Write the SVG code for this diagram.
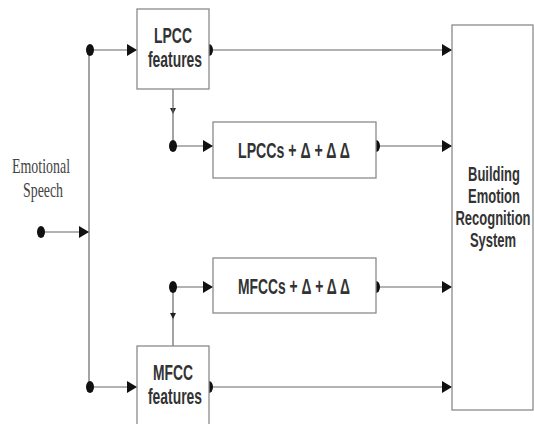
<svg xmlns="http://www.w3.org/2000/svg" width="534" height="424" viewBox="0 0 534 424">
<style>
.box{fill:#fff;stroke:#8a8a8a;stroke-width:1.3}
.ln{fill:none;stroke:#666;stroke-width:1.2}
.dot{fill:#111}
.lbl{font-family:"Liberation Sans",Arial,sans-serif;font-weight:bold;font-size:22px;fill:#333;text-anchor:middle}
.sys{font-size:20px}
.ser{font-family:"Liberation Serif","Times New Roman",serif;font-size:22px;fill:#444;text-anchor:middle}
</style>
<defs>
<marker id="ah" markerWidth="10" markerHeight="12" refX="10" refY="6" orient="auto" markerUnits="userSpaceOnUse">
<path d="M0,0 L10,6 L0,12 Z" fill="#111"/>
</marker>
<marker id="sa" markerWidth="6" markerHeight="6" refX="3" refY="3" orient="auto" markerUnits="userSpaceOnUse">
<path d="M0,0 L6,3 L0,6 Z" fill="#222"/>
</marker>
</defs>
<rect width="534" height="424" fill="#fff"/>

<g id="connectors">
<path class="ln" d="M41,232 H89" marker-end="url(#ah)"/>
<path class="ln" d="M89,50 V387"/>
<path class="ln" d="M89,50 H137" marker-end="url(#ah)"/>
<path class="ln" d="M89,387 H137" marker-end="url(#ah)"/>
<path class="ln" d="M209,50 H452" marker-end="url(#ah)"/>
<path class="ln" d="M173,89 V111" marker-end="url(#sa)"/>
<path class="ln" d="M173,108 V146"/>
<path class="ln" d="M173,146 H213" marker-end="url(#ah)"/>
<path class="ln" d="M376,146 H452" marker-end="url(#ah)"/>
<path class="ln" d="M173,346 V312"/>
<path class="ln" d="M173,312 V316" marker-end="url(#sa)"/>
<path class="ln" d="M173,312 V287"/>
<path class="ln" d="M173,287 H213" marker-end="url(#ah)"/>
<path class="ln" d="M376,287 H452" marker-end="url(#ah)"/>
<path class="ln" d="M209,387 H452" marker-end="url(#ah)"/>
<ellipse class="dot" cx="41" cy="232" rx="4" ry="6"/>
<ellipse class="dot" cx="90" cy="50" rx="4" ry="6"/>
<ellipse class="dot" cx="90" cy="387" rx="4" ry="6"/>
<ellipse class="dot" cx="209" cy="50" rx="4" ry="6"/>
<ellipse class="dot" cx="209" cy="387" rx="4" ry="6"/>
<ellipse class="dot" cx="173" cy="146" rx="4" ry="6"/>
<ellipse class="dot" cx="173" cy="287" rx="4" ry="6"/>
<ellipse class="dot" cx="376" cy="146" rx="4" ry="6"/>
<ellipse class="dot" cx="376" cy="287" rx="4" ry="6"/>
</g>

<g id="input">
<text class="ser" x="41" y="173" textLength="58" lengthAdjust="spacingAndGlyphs">Emotional</text>
<text class="ser" x="43" y="197" textLength="40" lengthAdjust="spacingAndGlyphs">Speech</text>
</g>

<g id="lpcc">
<rect class="box" x="137" y="9" width="72" height="80"/>
<text class="lbl" x="173" y="43" textLength="38" lengthAdjust="spacingAndGlyphs">LPCC</text>
<text class="lbl" x="175" y="67" textLength="54" lengthAdjust="spacingAndGlyphs">features</text>
</g>

<g id="lpccs">
<rect class="box" x="213" y="122" width="163" height="56"/>
<text class="lbl" x="294" y="158" textLength="112" lengthAdjust="spacingAndGlyphs">LPCCs + Δ + Δ Δ</text>
</g>

<g id="mfccs">
<rect class="box" x="213" y="258" width="163" height="55"/>
<text class="lbl" x="294" y="294" textLength="112" lengthAdjust="spacingAndGlyphs">MFCCs + Δ + Δ Δ</text>
</g>

<g id="mfcc">
<rect class="box" x="137" y="346" width="72" height="84"/>
<text class="lbl" x="173" y="380" textLength="40" lengthAdjust="spacingAndGlyphs">MFCC</text>
<text class="lbl" x="175" y="404" textLength="54" lengthAdjust="spacingAndGlyphs">features</text>
</g>

<g id="system">
<rect class="box" x="452" y="25" width="81" height="385"/>
<text class="lbl sys" transform="translate(494,181) scale(0.65,1)">Building</text>
<text class="lbl sys" transform="translate(494,203) scale(0.65,1)">Emotion</text>
<text class="lbl sys" transform="translate(493,225) scale(0.65,1)">Recognition</text>
<text class="lbl sys" transform="translate(493,247) scale(0.65,1)">System</text>
</g>
</svg>
